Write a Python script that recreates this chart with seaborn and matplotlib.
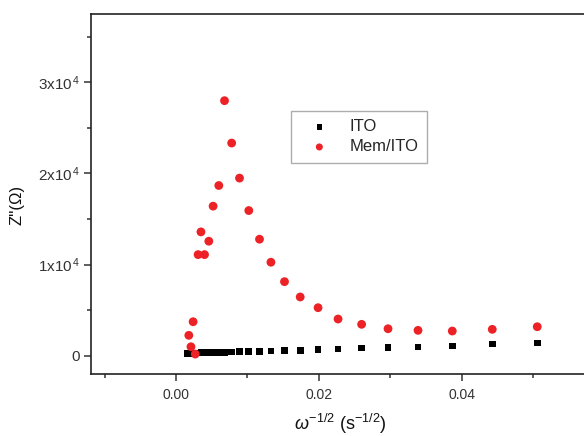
import matplotlib
matplotlib.use("Agg")
import matplotlib.pyplot as plt
import seaborn as sns
import pandas as pd
from matplotlib.ticker import FixedLocator

# omega^-1/2 (s^-1/2)
x_vals = [0.0506, 0.0443, 0.0387, 0.0339, 0.0297, 0.0260, 0.0227, 0.0199,
          0.0174, 0.0152, 0.0133, 0.0117, 0.0102, 0.0089, 0.0078, 0.0068,
          0.0060, 0.0052, 0.0046, 0.0040, 0.0035, 0.0031, 0.0027, 0.0024,
          0.0021, 0.0018, 0.0016]
ito_z = [1395, 1286, 1066, 956, 879, 846, 736, 703, 593, 549, 520, 500, 460,
         430, 410, 400, 380, 370, 350, 340, 320, 310, 300, 290, 280, 270, 260]
mem_z = [3187, 2901, 2714, 2791, 2967, 3451, 4033, 5275, 6451, 8132, 10264,
         12791, 15934, 19495, 23341, 27989, 18681, 16418, 12571, 11099, 13593,
         11099, 187, 3736, 989, 2242]

series_names = ["ITO", "Mem/ITO"]
x_ticks = [0.00, 0.02, 0.04]
x_tick_labels = ["0.00", "0.02", "0.04"]
y_ticks = [0, 10000, 20000, 30000]
y_tick_labels = ["0", r"$\mathregular{1x10^{\,4}}$", r"$\mathregular{2x10^{\,4}}$", r"$\mathregular{3x10^{\,4}}$"]

df_ito = pd.DataFrame({"x": x_vals[:len(ito_z)], "z": ito_z})
df_mem = pd.DataFrame({"x": x_vals[:len(mem_z)], "z": mem_z})

sns.set_style("white")
plt.rcParams["font.family"] = ["Liberation Sans", "DejaVu Sans"]
plt.rcParams["mathtext.fontset"] = "custom"
plt.rcParams["mathtext.rm"] = "Liberation Sans"
plt.rcParams["mathtext.it"] = "Liberation Sans:italic"

fig = plt.figure(figsize=(5.84, 4.36), dpi=100)
ax = fig.add_axes([91 / 584, 1 - 374 / 436, 529 / 584, 360 / 436])

sns.scatterplot(data=df_ito, x="x", y="z", marker="s", s=24, color="black",
                edgecolor="none", label=series_names[0], ax=ax, zorder=3)
sns.scatterplot(data=df_mem, x="x", y="z", marker="o", s=40, color="#ED2226",
                edgecolor="none", label=series_names[1], ax=ax, zorder=4)

ax.set_xlim(-0.0119, -0.0119 + 529 / 7140)
ax.set_ylim(-2000, 37500)

ax.xaxis.set_major_locator(FixedLocator(x_ticks))
ax.set_xticklabels(x_tick_labels)
ax.xaxis.set_minor_locator(FixedLocator([-0.01, 0.01, 0.03, 0.05]))
ax.yaxis.set_major_locator(FixedLocator(y_ticks))
ax.set_yticklabels(y_tick_labels)
ax.yaxis.set_minor_locator(FixedLocator([5000, 15000, 25000, 35000]))

ax.tick_params(axis="both", which="major", direction="out", length=5, width=1.1,
               color="#333333", labelcolor="#333333", bottom=True, left=True)
ax.tick_params(axis="both", which="minor", direction="out", length=3, width=1.1,
               color="#333333", bottom=True, left=True)
ax.tick_params(axis="x", which="major", labelsize=10, pad=5)
ax.tick_params(axis="y", which="major", labelsize=11, pad=3)

for side in ["left", "bottom", "top", "right"]:
    ax.spines[side].set_linewidth(1.2)
    ax.spines[side].set_color("#222222")

ax.set_xlabel("")
ax.set_ylabel("")
fig.text(340 / 584, 1 - 424 / 436, r"$\omega^{-1/2}$ (s$^{-1/2}$)", ha="center",
         va="center", fontsize=13, color="#111111")
fig.text(17 / 584, 1 - 205 / 436, "Z''(Ω)", rotation=90, ha="center", va="center",
         fontsize=12, color="#111111")

leg = ax.legend(loc="upper left", bbox_to_anchor=(200 / 529, 0.7306), borderaxespad=0,
                fontsize=12, frameon=True, fancybox=False, labelspacing=0.3,
                handlelength=2.4, handletextpad=0.6, borderpad=0.5, markerscale=0.8)
leg.get_frame().set_edgecolor("#999999")
leg.get_frame().set_linewidth(1.0)

fig.savefig("out.png", dpi=100)
